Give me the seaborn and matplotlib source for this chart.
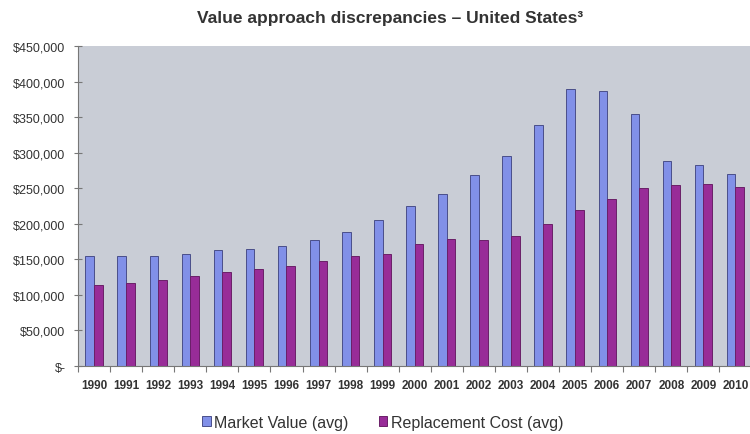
import matplotlib
matplotlib.use("Agg")
import matplotlib.pyplot as plt
import seaborn as sns
import pandas as pd
import numpy as np
from matplotlib.ticker import FixedLocator, NullFormatter

years = [str(y) for y in range(1990, 2011)]
market_value = [155000, 155000, 155000, 158000, 163000, 165000, 169000, 177000, 189000, 205000,
                225000, 242000, 268000, 296000, 339000, 389000, 387000, 354000, 289000, 283000, 270000]
replacement_cost = [114000, 117000, 121000, 126000, 132000, 137000, 141000, 147000, 155000, 158000,
                    171000, 178000, 177000, 183000, 200000, 220000, 235000, 250000, 255000, 256000, 252000]
series_names = ["Market Value (avg)", "Replacement Cost (avg)"]
y_ticks = [0, 50000, 100000, 150000, 200000, 250000, 300000, 350000, 400000, 450000]
y_labels = ["\\$-", "\\$50,000", "\\$100,000", "\\$150,000", "\\$200,000", "\\$250,000",
            "\\$300,000", "\\$350,000", "\\$400,000", "\\$450,000"]

df = pd.DataFrame({
    "Year": years * 2,
    "Value": market_value + replacement_cost,
    "Series": [series_names[0]] * len(years) + [series_names[1]] * len(years),
})

sns.set_theme(style="white")
plt.rcParams["font.family"] = ["Liberation Sans", "DejaVu Sans"]

fig = plt.figure(figsize=(7.5, 4.35), dpi=100)
ax = fig.add_axes([0.104, 0.1563, 0.898, 0.7356])
ax.set_facecolor("#C9CDD6")

mv_color = "#8190E8"
rc_color = "#982C98"
palette = {series_names[0]: mv_color, series_names[1]: rc_color}
sns.barplot(data=df, x="Year", y="Value", hue="Series", palette=palette, width=0.54,
            saturation=1, ax=ax, legend=True)
for patch in ax.patches:
    fc = patch.get_facecolor()
    if np.allclose(fc[:3], matplotlib.colors.to_rgb(mv_color), atol=0.02):
        patch.set_edgecolor("#4A4F8A")
    else:
        patch.set_edgecolor("#6A2068")
    patch.set_linewidth(0.7)

ax.set_xlim(-0.5, len(years) - 0.5)
ax.set_ylim(0, 450000)
ax.set_yticks(y_ticks)
ax.set_yticklabels(y_labels, fontsize=9, color="#333333")
ax.set_xlabel("")
ax.set_ylabel("")

ax.tick_params(axis="x", which="major", length=0, pad=9, labelsize=8.5)
for lbl in ax.get_xticklabels():
    lbl.set_fontweight("bold")
    lbl.set_color("#333333")
ax.xaxis.set_minor_locator(FixedLocator(np.arange(-0.5, len(years), 1.0)))
ax.xaxis.set_minor_formatter(NullFormatter())
ax.tick_params(axis="x", which="minor", direction="out", length=4, width=0.8, color="#777777", bottom=True)
ax.tick_params(axis="y", which="major", direction="inout", length=6, width=0.8, color="#777777", left=True, pad=6)

for s in ["top", "right"]:
    ax.spines[s].set_visible(False)
for s in ["left", "bottom"]:
    ax.spines[s].set_color("#777777")
    ax.spines[s].set_linewidth(0.8)

fig.text(0.52, 0.958, "Value approach discrepancies \u2013 United States\u00b3", ha="center", va="center",
         fontsize=12.5, fontweight="bold", color="#333333")

handles, labels = ax.get_legend_handles_labels()
ax.get_legend().remove()
fig.legend(handles, labels, loc="center", bbox_to_anchor=(0.51, 0.027), ncol=2, frameon=False,
           fontsize=11.5, handlelength=0.55, handleheight=0.55, handletextpad=0.2, columnspacing=1.9,
           labelcolor="#333333")

fig.savefig("out.png", dpi=100)
